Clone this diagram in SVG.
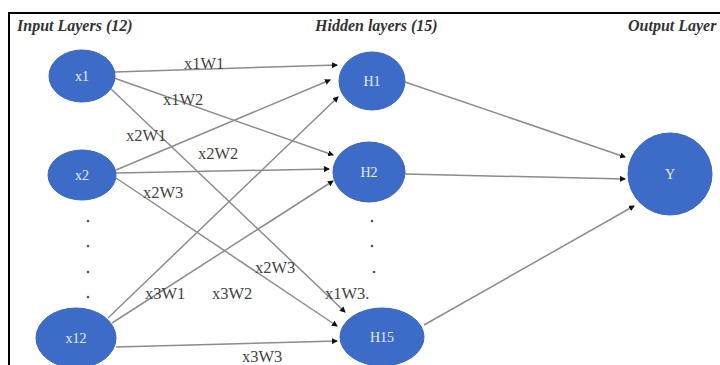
<svg xmlns="http://www.w3.org/2000/svg" width="720" height="365" viewBox="0 0 720 365">
<style>
.node ellipse{fill:#3d6cc8;stroke:#3a66bd;stroke-width:1}
.node text{fill:#e8ecf8;font-family:"Liberation Serif",serif;font-size:14px;text-anchor:middle;dominant-baseline:central}
.edge{stroke:#8c8c8c;stroke-width:1.5;fill:none;marker-end:url(#arr)}
.lbl{fill:#444;font-family:"Liberation Serif",serif;font-size:16.5px}
.hdr{fill:#333;font-family:"Liberation Serif",serif;font-size:16px;font-style:italic;font-weight:bold}
.dot{fill:#555}
</style>
<defs>
<marker id="arr" markerWidth="6" markerHeight="6" refX="5" refY="3" orient="auto" markerUnits="userSpaceOnUse">
<path d="M0,0 L6,3 L0,6 z" fill="#111"/>
</marker>
</defs>
<rect width="720" height="365" fill="#fff"/>
<path d="M9,365 L9,13 L720,13" fill="none" stroke="#000" stroke-width="2"/>
<text class="hdr" x="17" y="31">Input Layers (12)</text>
<text class="hdr" x="315" y="31">Hidden layers (15)</text>
<text class="hdr" x="628" y="31">Output Layer</text>
<g id="connectors">
<line class="edge" x1="115" y1="72" x2="337" y2="65"/>
<line class="edge" x1="114" y1="78" x2="333" y2="155"/>
<line class="edge" x1="110" y1="88" x2="345" y2="312"/>
<line class="edge" x1="116" y1="170" x2="330" y2="80"/>
<line class="edge" x1="116" y1="173" x2="329" y2="169"/>
<line class="edge" x1="116" y1="178" x2="337" y2="326"/>
<line class="edge" x1="108" y1="318" x2="338" y2="97"/>
<line class="edge" x1="112" y1="323" x2="333" y2="181"/>
<line class="edge" x1="116" y1="347" x2="337" y2="341"/>
<line class="edge" x1="405" y1="82" x2="625" y2="157"/>
<line class="edge" x1="405" y1="174" x2="625" y2="179"/>
<line class="edge" x1="424" y1="325" x2="634" y2="206"/>
<text class="lbl" x="184" y="69">x1W1</text>
<text class="lbl" x="163" y="105">x1W2</text>
<text class="lbl" x="126" y="141">x2W1</text>
<text class="lbl" x="198" y="159">x2W2</text>
<text class="lbl" x="143" y="198">x2W3</text>
<text class="lbl" x="255" y="273">x2W3</text>
<text class="lbl" x="325" y="299">x1W3.</text>
<text class="lbl" x="145" y="299">x3W1</text>
<text class="lbl" x="212" y="299">x3W2</text>
<text class="lbl" x="242" y="362">x3W3</text>
</g>
<g id="dots">
<circle class="dot" cx="88" cy="221" r="1.3"/>
<circle class="dot" cx="88" cy="246" r="1.3"/>
<circle class="dot" cx="88" cy="272" r="1.3"/>
<circle class="dot" cx="88" cy="297" r="1.3"/>
<circle class="dot" cx="372" cy="221" r="1.3"/>
<circle class="dot" cx="372" cy="246" r="1.3"/>
<circle class="dot" cx="374" cy="272" r="1.3"/>
</g>
<g id="x1" class="node"><ellipse cx="82" cy="76" rx="33" ry="26"/><text x="82" y="76">x1</text></g>
<g id="x2" class="node"><ellipse cx="82" cy="175" rx="34" ry="25"/><text x="82" y="175">x2</text></g>
<g id="x12" class="node"><ellipse cx="76" cy="338" rx="40" ry="30"/><text x="76" y="338">x12</text></g>
<g id="H1" class="node"><ellipse cx="372" cy="81" rx="33" ry="29"/><text x="372" y="81">H1</text></g>
<g id="H2" class="node"><ellipse cx="369" cy="172" rx="36" ry="30"/><text x="369" y="172">H2</text></g>
<g id="H15" class="node"><ellipse cx="382" cy="337" rx="42" ry="29"/><text x="382" y="337">H15</text></g>
<g id="Y" class="node"><ellipse cx="670" cy="174" rx="42" ry="41"/><text x="670" y="174">Y</text></g>
</svg>
